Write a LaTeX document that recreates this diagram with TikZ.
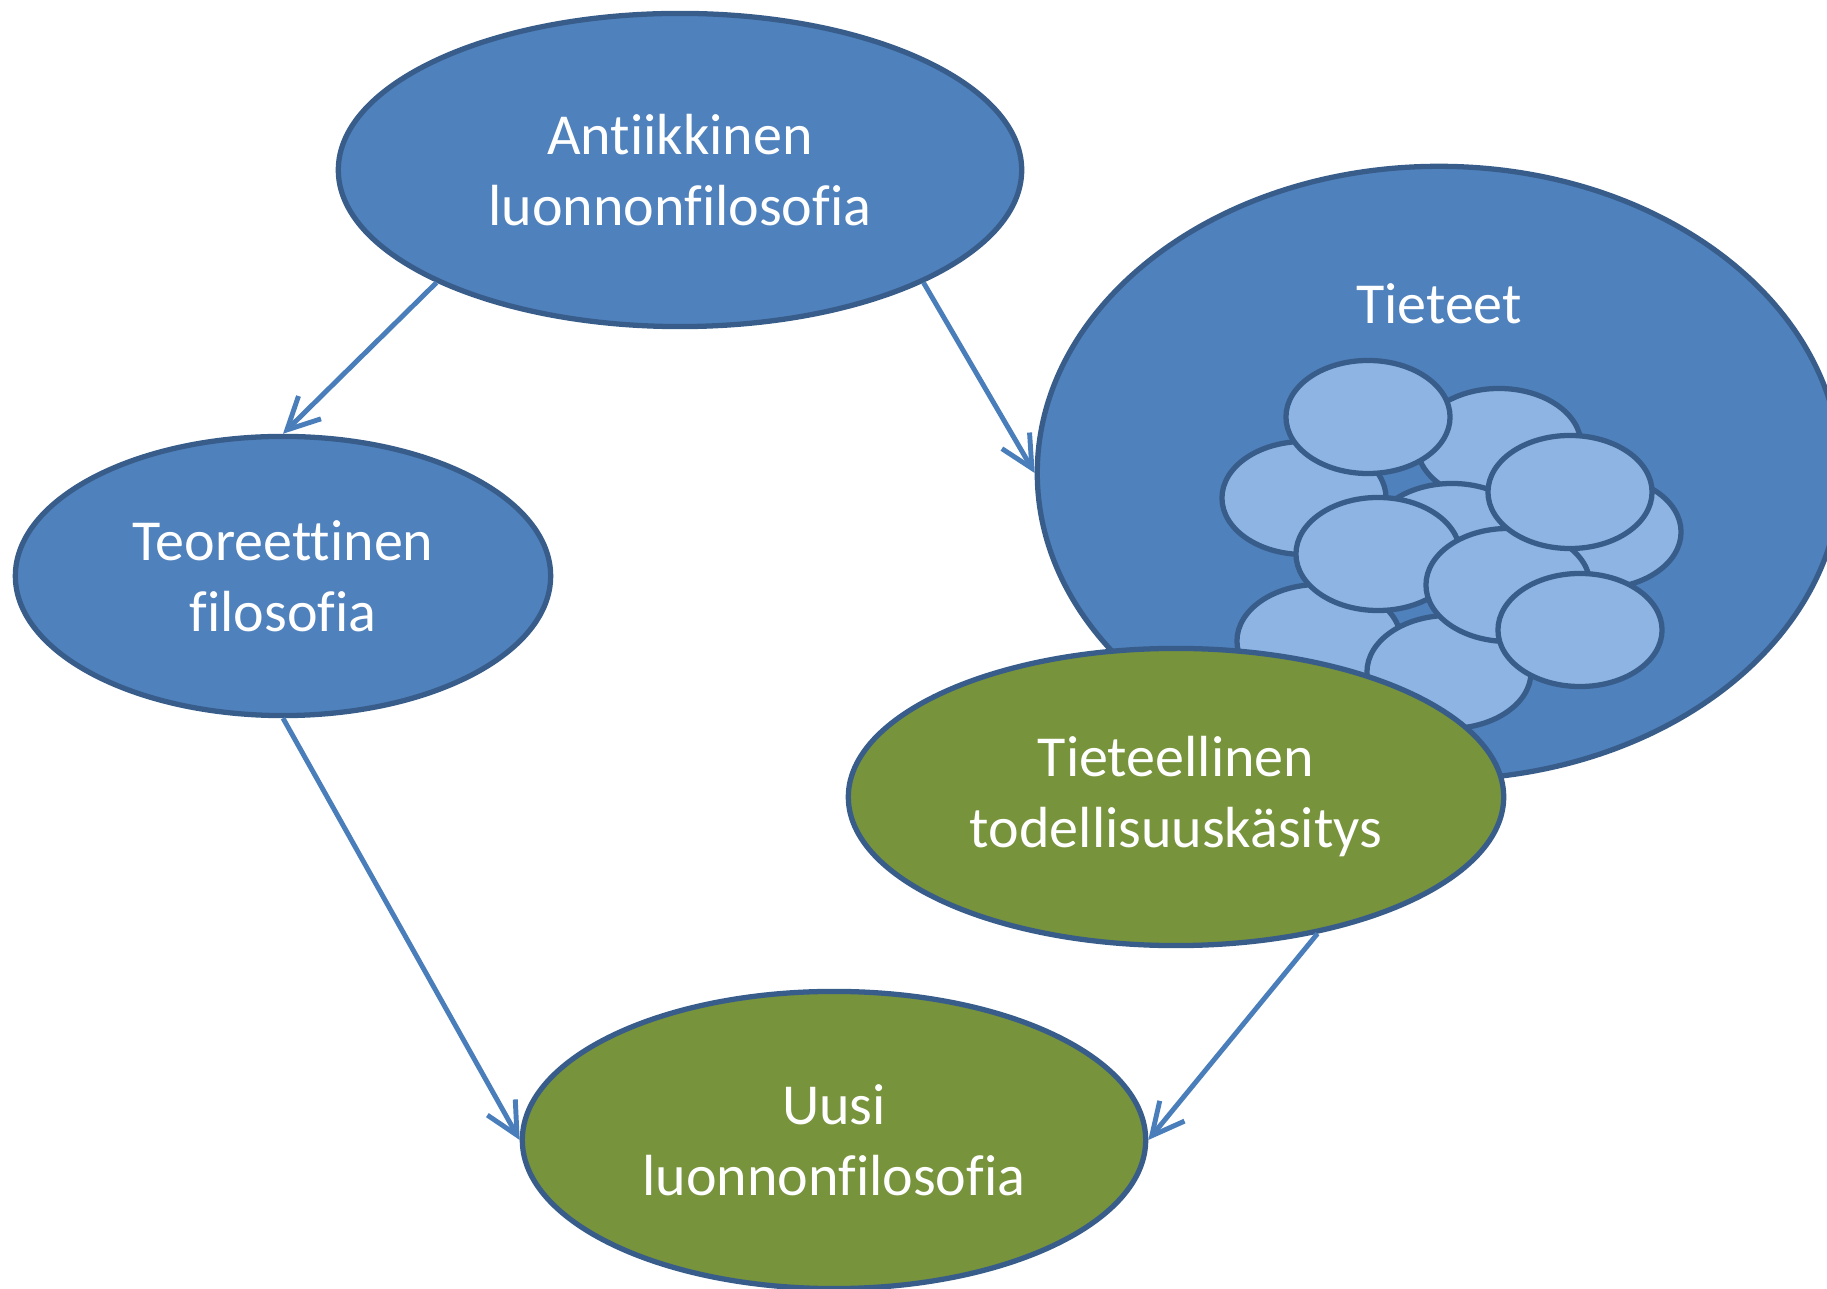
\documentclass[tikz,border=0pt]{standalone}
\usepackage{fontspec}
\setmainfont{Carlito}[RawFeature={-liga;-clig}]
\usetikzlibrary{shapes.geometric, arrows.meta, positioning}
\definecolor{darkfill}{HTML}{4F81BD}
\definecolor{edgeblue}{HTML}{385D8A}
\definecolor{lightfill}{HTML}{8EB4E3}
\definecolor{greenfill}{HTML}{77933C}
\definecolor{arrowblue}{HTML}{4A7EBB}

\begin{document}
\begin{tikzpicture}[
    x=0.01cm, y=-0.01cm,
    topic/.style={ellipse, draw=edgeblue, line width=1.5pt, fill=darkfill, text=white, align=center, inner sep=0pt, font=\fontsize{16.5}{20.2}\selectfont}, % blue topics
    result/.style={topic, fill=greenfill}, % green results
    science/.style={ellipse, draw=edgeblue, line width=1.5pt, fill=lightfill, minimum width=1.64cm, minimum height=1.13cm, inner sep=0pt},
    arrow/.style={-{Straight Barb[length=0.32cm, width=0.32cm]}, draw=arrowblue, line width=1.4pt},
    label/.style={text=white, font=\fontsize{16.5}{20.2}\selectfont}
]
\clip (0,0) rectangle (1827,1289);

% Big ellipse: Tieteet
\node[topic, minimum width=8.03cm, minimum height=6.13cm] (tieteet) at (1439,473) {};
\node[label] (tieteetlabel) at (1439,304) {Tieteet};

% Small sciences, back to front
\node[science] (sciB) at (1499,445) {};
\node[science] (sciC) at (1304,498) {};
\node[science] (sciE) at (1599,532) {};
\node[science] (sciG) at (1452,540) {};
\node[science] (sciJ) at (1319,641) {};
\node[science] (sciK) at (1449,672) {};
\node[science] (sciA) at (1368,417) {};
\node[science] (sciF) at (1378,554) {};
\node[science] (sciH) at (1508,585) {};
\node[science] (sciD) at (1570,492) {};
\node[science] (sciI) at (1580,630) {};

% Topics
\node[result, minimum width=6.55cm, minimum height=2.97cm] (tieteellinen) at (1176,797) {Tieteellinen\\todellisuuskäsitys};
\node[topic, minimum width=6.83cm, minimum height=3.13cm] (antiikki) at (680,170) {Antiikkinen\\luonnonfilosofia};
\node[topic, minimum width=5.35cm, minimum height=2.79cm] (teoreettinen) at (283,576) {Teoreettinen\\filosofia};
\node[result, minimum width=6.23cm, minimum height=2.97cm] (uusi) at (834,1140) {Uusi\\luonnonfilosofia};

% Connections
\draw[arrow] (antiikki.south west) -- (teoreettinen.north);
\draw[arrow] (antiikki.south east) -- (tieteet.west);
\draw[arrow] (teoreettinen.south) -- (uusi.west);
\draw[arrow] (tieteellinen.-44) -- (uusi.east);

\end{tikzpicture}
\end{document}
